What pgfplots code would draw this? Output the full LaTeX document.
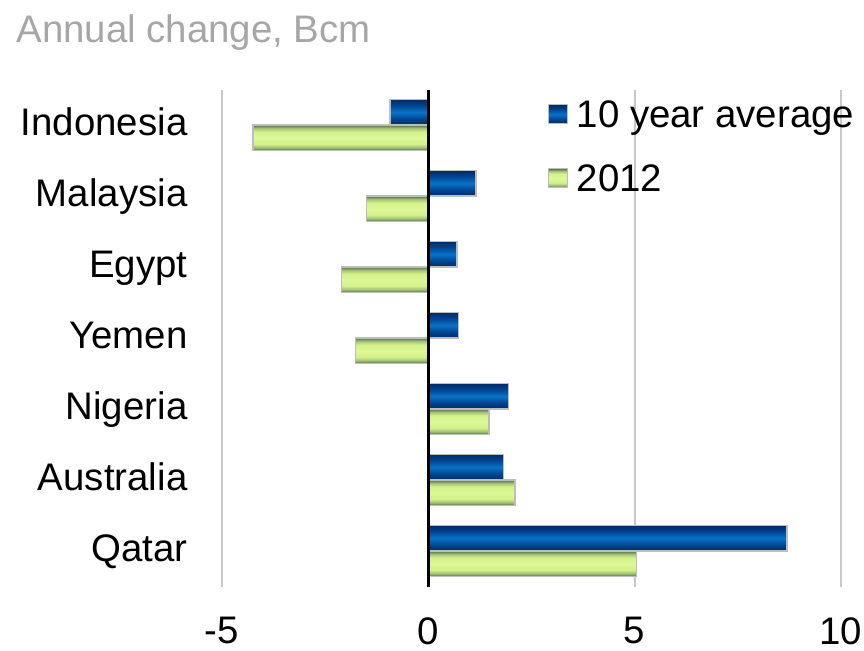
\documentclass[border=0pt]{standalone}
\usepackage{pgfplots}
\pgfplotsset{compat=1.18}
\usepackage{fontspec}
\setmainfont{Liberation Sans}
\definecolor{titlegray}{HTML}{A6A6A6}
\definecolor{gridgray}{HTML}{C8C8C8}
\definecolor{barborder}{HTML}{BDBDBD}
\definecolor{bd}{HTML}{002A66}
\definecolor{bm}{HTML}{00428E}
\definecolor{bl}{HTML}{0A72C6}
\definecolor{gd}{HTML}{4E6E48}
\definecolor{gm}{HTML}{A2C076}
\definecolor{gl}{HTML}{D4F18A}
\definecolor{gc}{HTML}{DDF897}
\pgfdeclareverticalshading{blueshade}{100bp}{color(0bp)=(bd); color(25bp)=(bd); color(36bp)=(bm); color(50bp)=(bl); color(64bp)=(bm); color(75bp)=(bd); color(100bp)=(bd)}
\pgfdeclareverticalshading{greenshade}{100bp}{color(0bp)=(gd); color(25bp)=(gd); color(31bp)=(gm); color(38bp)=(gl); color(50bp)=(gc); color(62bp)=(gl); color(69bp)=(gm); color(75bp)=(gd); color(100bp)=(gd)}
\newcommand{\lbl}{\fontsize{19.2}{23}\selectfont}
\tikzset{
  blueb/.style={shade, shading=blueshade, draw=barborder, line width=0.8pt},
  greenb/.style={shade, shading=greenshade, draw=barborder, line width=0.8pt},
}
\begin{document}
\begin{tikzpicture}
\begin{axis}[
  at={(0,0)}, anchor=south west,
  scale only axis,
  width=309.5pt, height=248.5pt,
  xbar,
  bar width=0.36,
  y dir=reverse,
  xmin=-5, xmax=10, ymin=-0.5, ymax=6.5,
  enlargelimits=false,
  xtick={-5,0,5,10},
  xticklabels={-5,0,5,10},
  ytick={0,1,2,3,4,5,6},
  yticklabels={Indonesia,Malaysia,Egypt,Yemen,Nigeria,Australia,Qatar},
  axis line style={draw=none},
  tick style={draw=none},
  xmajorgrids,
  grid style={gridgray, line width=1pt},
  tick label style={font=\lbl, text=black},
  xticklabel style={yshift=-12pt},
  yticklabel style={anchor=east, xshift=-9.5pt, text height=14pt, text depth=4pt},
  legend style={draw=none, fill=none, at={(0.527,0.985)}, anchor=north west,
    inner sep=0pt, outer sep=0pt, font=\lbl, row sep=13pt,
    legend cell align=left},
  clip=false,
]
% 10 year average
\addplot[blueb, bar shift=-0.18, forget plot] coordinates {(-0.93,0)};
\addplot[blueb, bar shift=-0.18, forget plot] coordinates {(1.15,1)};
\addplot[blueb, bar shift=-0.18, forget plot] coordinates {(0.69,2)};
\addplot[blueb, bar shift=-0.18, forget plot] coordinates {(0.73,3)};
\addplot[blueb, bar shift=-0.18, forget plot] coordinates {(1.94,4)};
\addplot[blueb, bar shift=-0.18, forget plot] coordinates {(1.82,5)};
\addplot[blueb, bar shift=-0.18, forget plot] coordinates {(8.69,6)};
% 2012
\addplot[greenb, bar shift=0.18, forget plot] coordinates {(-4.25,0)};
\addplot[greenb, bar shift=0.18, forget plot] coordinates {(-1.50,1)};
\addplot[greenb, bar shift=0.18, forget plot] coordinates {(-2.10,2)};
\addplot[greenb, bar shift=0.18, forget plot] coordinates {(-1.76,3)};
\addplot[greenb, bar shift=0.18, forget plot] coordinates {(1.47,4)};
\addplot[greenb, bar shift=0.18, forget plot] coordinates {(2.10,5)};
\addplot[greenb, bar shift=0.18, forget plot] coordinates {(5.04,6)};
\addlegendimage{legend image code/.code={\draw[blueb, line width=0.5pt] (0pt,-4pt) rectangle (9.5pt,5.5pt); \path[draw=none, shade=false, fill=none] (0pt,0pt) rectangle (12pt,0pt);}}
\addlegendentry{10 year average}
\addlegendimage{legend image code/.code={\draw[greenb, line width=0.5pt] (0pt,-4pt) rectangle (9.5pt,5.5pt); \path[draw=none, shade=false, fill=none] (0pt,0pt) rectangle (12pt,0pt);}}
\addlegendentry{2012}
\draw[black, line width=1.2pt] (axis cs:0,-0.5) -- (axis cs:0,6.5);
\end{axis}
\node[anchor=base west, text=titlegray, font=\lbl, inner sep=0pt] at (-103pt,272.25pt) {Annual change, Bcm};
\pgfresetboundingbox
\path (-111pt,-31.75pt) rectangle (321pt,293.25pt);
\end{tikzpicture}
\end{document}
